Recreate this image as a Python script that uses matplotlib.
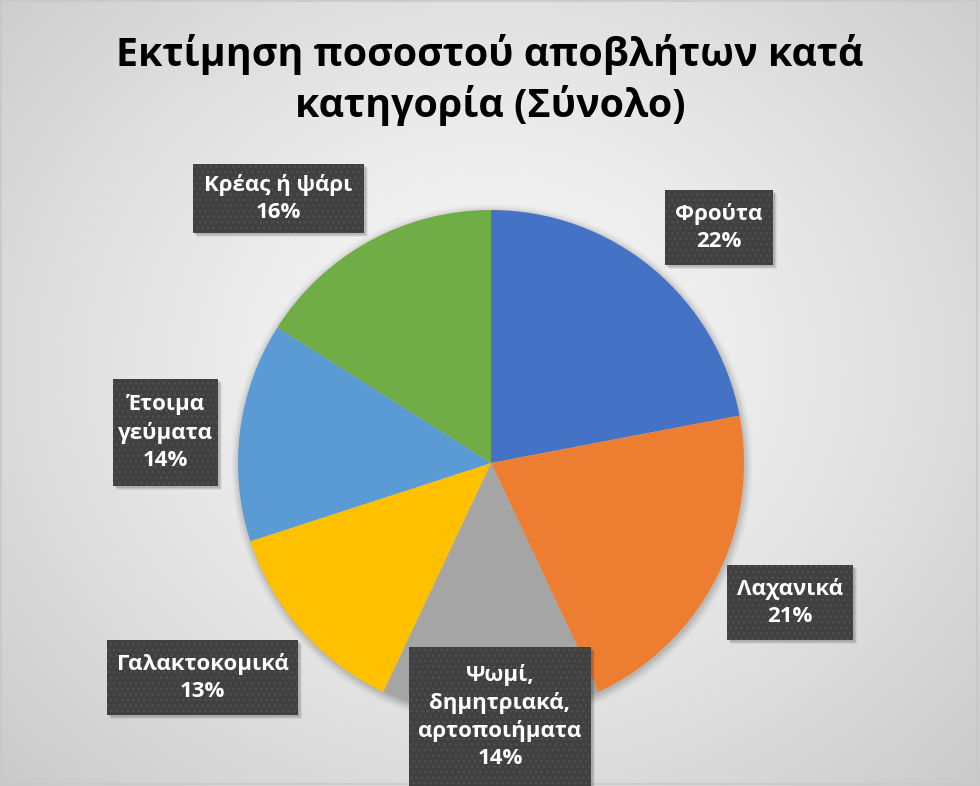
import numpy as np
import matplotlib
matplotlib.use("Agg")
import matplotlib.pyplot as plt
from matplotlib.patches import Rectangle

# Waste share by food category (%)
categories = ["Φρούτα", "Λαχανικά", "Ψωμί,\nδημητριακά,\nαρτοποιήματα",
              "Γαλακτοκομικά", "Έτοιμα\nγεύματα", "Κρέας ή ψάρι"]
values = [22, 21, 14, 13, 14, 16]
colors = ["#4472C4", "#ED7D31", "#A5A5A5", "#FFC000", "#5B9BD5", "#70AD47"]
title = "Εκτίμηση ποσοστού αποβλήτων κατά\nκατηγορία (Σύνολο)"

# Label box layout in pixel units (left, top, right, bottom), top-down
label_boxes = [
    (665, 190, 773, 265),
    (727, 565, 853, 640),
    (409, 647, 591, 800),
    (107, 640, 298, 715),
    (113, 379, 218, 486),
    (193, 164, 364, 233),
]

W, H = 980, 786
fig = plt.figure(figsize=(W / 100, H / 100), dpi=100)
ax = fig.add_axes([0, 0, 1, 1])
ax.set_xlim(0, W)
ax.set_ylim(0, H)
ax.axis("off")

# Radial grey background, lighter towards the middle
yy, xx = np.mgrid[0:H, 0:W]
r = np.hypot((xx - 490) / 700, (yy - 420) / 620)
shade = 0.975 - 0.19 * np.clip(r, 0, 1.2) ** 1.3
ax.imshow(np.dstack([shade] * 3), extent=[0, W, H, 0], origin="upper",
          zorder=0, interpolation="bilinear")
ax.set_xlim(0, W)
ax.set_ylim(0, H)
ax.add_patch(Rectangle((0.5, 2), W - 4, H - 3, fill=False,
                       edgecolor="#c8c8c8", lw=1.2, zorder=1))

# soft halo under the pie
cx, cy, rad = 491, H - 463, 253
for i, a in enumerate(np.linspace(0.05, 0.01, 6)):
    ax.add_patch(plt.Circle((cx + 1, cy - 2), rad + 1 + i * 1.5,
                            color="black", alpha=a, lw=0, zorder=1))

ax.pie(values, colors=colors, startangle=90, counterclock=False,
       center=(cx, cy), radius=rad, frame=True,
       wedgeprops=dict(linewidth=0, zorder=2))
ax.set_xlim(0, W)
ax.set_ylim(0, H)
ax.set_aspect("equal")
ax.axis("off")

ax.text(490, H - 80, title, ha="center", va="center", fontsize=28.4,
        fontweight="bold", family=["Open Sans", "DejaVu Sans"],
        color="black", linespacing=1.33, zorder=5)

for name, val, (l, t, rr, b) in zip(categories, values, label_boxes):
    w, h = rr - l, b - t
    for k, al in enumerate([0.10, 0.08, 0.06]):
        ax.add_patch(Rectangle((l + 2 + k, H - b - 2 - k), w, h,
                               facecolor="black", alpha=al, lw=0, zorder=6))
    ax.add_patch(Rectangle((l, H - b), w, h, facecolor="#404040",
                           lw=0, zorder=7))
    ax.add_patch(Rectangle((l, H - b), w, h, fill=False, hatch="...",
                           edgecolor="#505050", lw=0, zorder=7.5))
    vis_b = min(b, H)
    ctr = H - (t + vis_b) / 2
    ax.text((l + rr) / 2, ctr, f"{name}\n{val}%", ha="center", va="center",
            color="white", fontsize=16, fontweight="bold",
            family=["Open Sans", "DejaVu Sans"], linespacing=1.38, zorder=8)

fig.savefig("out.png", dpi=100)
